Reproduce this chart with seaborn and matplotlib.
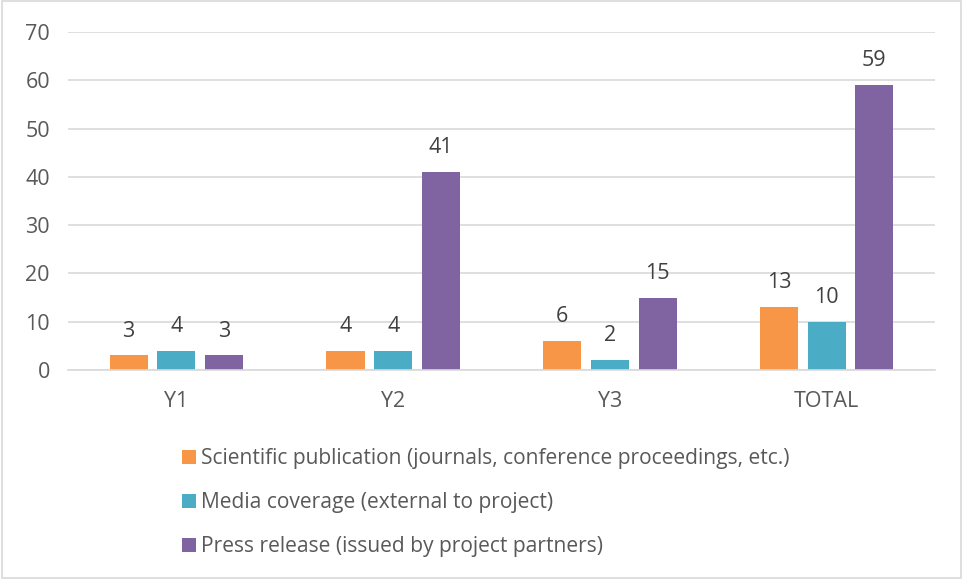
import matplotlib
matplotlib.use("Agg")
import matplotlib.pyplot as plt
import seaborn as sns
import pandas as pd
from matplotlib.patches import Rectangle, Patch

categories = ["Y1", "Y2", "Y3", "TOTAL"]
series_names = [
    "Scientific publication (journals, conference proceedings, etc.)",
    "Media coverage (external to project)",
    "Press release (issued by project partners)",
]
scientific = [3, 4, 6, 13]
media = [4, 4, 2, 10]
press = [3, 41, 15, 59]
colors = ["#F79646", "#4BACC6", "#8064A2"]

rows = []
for name, vals in zip(series_names, [scientific, media, press]):
    for c, v in zip(categories, vals):
        rows.append({"cat": c, "series": name, "value": v})
df = pd.DataFrame(rows)

sns.set_theme(style="white")
plt.rcParams['font.family'] = ['Open Sans', 'DejaVu Sans']

FS = 15.5
fig = plt.figure(figsize=(9.63, 5.79), dpi=100)
ax = fig.add_axes([0.0706, 0.361, 0.9004, 0.5837])

sns.barplot(data=df, x="cat", y="value", hue="series", order=categories,
            hue_order=series_names, palette=colors, width=0.66, gap=0.2,
            saturation=1, ax=ax, legend=False, errorbar=None, linewidth=0)

for cont in ax.containers:
    ax.bar_label(cont, padding=10, fontsize=FS, color="#404040")

ax.set_ylim(0, 70)
ax.set_xlim(-0.5, 3.5)
ax.set_yticks(range(0, 71, 10))
ax.yaxis.grid(True, color="#D9D9D9", linewidth=1.2)
ax.set_axisbelow(True)
for s in ["top", "right", "left"]:
    ax.spines[s].set_visible(False)
ax.spines["bottom"].set_color("#D9D9D9")
ax.spines["bottom"].set_linewidth(1.2)
ax.set_xlabel("")
ax.set_ylabel("")
ax.tick_params(axis="both", length=0, labelsize=FS, colors="#595959")
ax.tick_params(axis="y", pad=13)
ax.tick_params(axis="x", pad=15)

handles = [Patch(facecolor=c, edgecolor="none") for c in colors]
fig.legend(handles, series_names, loc="upper left", bbox_to_anchor=(0.189, 0.226),
           frameon=False, fontsize=15.1, labelcolor="#595959", handlelength=0.65,
           handleheight=0.65, handletextpad=0.25, labelspacing=1.1,
           borderaxespad=0, borderpad=0)

fig.patches.append(Rectangle((0.002, 0.002), 0.996, 0.996, transform=fig.transFigure,
                             fill=False, edgecolor="#D9D9D9", linewidth=1.2))

fig.savefig("out.png", dpi=100)
